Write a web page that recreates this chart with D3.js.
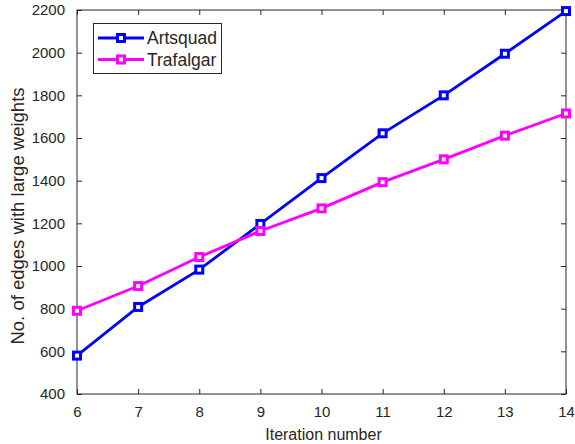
<!DOCTYPE html>
<html>
<head>
  <meta charset="utf-8">
  <title>edges with large weights</title>
  <script src="https://cdn.jsdelivr.net/npm/d3@7/dist/d3.min.js"></script>
  <style>
    body { margin: 0; background: #fff; }
    text { font-family: "Liberation Sans", Arial, sans-serif; fill: #262626; }
  </style>
</head>
<body>
  <svg id="chart" width="575" height="444"></svg>
  <script>
    // values
    var iterations = [6, 7, 8, 9, 10, 11, 12, 13, 14];
    var artsquad = [580, 808, 983, 1197, 1412, 1622, 1800, 1995, 2195];
    var trafalgar = [790, 906, 1042, 1164, 1270, 1393, 1500, 1611, 1715];
    var yTicks = [400, 600, 800, 1000, 1200, 1400, 1600, 1800, 2000, 2200];
    var series = [
      { name: "Artsquad", values: artsquad, color: "#0000ff" },
      { name: "Trafalgar", values: trafalgar, color: "#ff00ff" }
    ];

    var plotL = 77, plotR = 566, plotT = 10, plotB = 394;
    var svg = d3.select("#chart");

    var x = d3.scaleLinear().domain([6, 14]).range([plotL, plotR]);
    var y = d3.scaleLinear().domain([400, 2200]).range([plotB, plotT]);

    // box
    svg.append("rect")
      .attr("x", plotL).attr("y", plotT)
      .attr("width", plotR - plotL).attr("height", plotB - plotT)
      .attr("fill", "none").attr("stroke", "#262626").attr("stroke-width", 1);

    // axes with inward ticks
    var xAxis = svg.append("g").attr("transform", "translate(0," + plotB + ")")
      .call(d3.axisBottom(x).tickValues(iterations).tickSizeInner(-5).tickSizeOuter(0).tickPadding(12).tickFormat(d3.format("d")));
    var xTop = svg.append("g").attr("transform", "translate(0," + plotT + ")")
      .call(d3.axisTop(x).tickValues(iterations).tickSizeInner(-5).tickSizeOuter(0).tickFormat(""));
    var yAxis = svg.append("g").attr("transform", "translate(" + plotL + ",0)")
      .call(d3.axisLeft(y).tickValues(yTicks).tickSizeInner(-5).tickSizeOuter(0).tickPadding(12).tickFormat(d3.format("d")));
    var yRight = svg.append("g").attr("transform", "translate(" + plotR + ",0)")
      .call(d3.axisRight(y).tickValues(yTicks).tickSizeInner(-5).tickSizeOuter(0).tickFormat(""));

    [xAxis, xTop, yAxis, yRight].forEach(function(g) {
      g.select(".domain").remove();
      g.selectAll(".tick line").attr("stroke", "#262626");
      g.selectAll(".tick text").style("font-family", "Liberation Sans, Arial, sans-serif")
        .style("font-size", "15px").attr("fill", "#333");
    });

    // series
    var line = d3.line()
      .x(function(d, i) { return x(iterations[i]); })
      .y(function(d) { return y(d); });

    series.forEach(function(s) {
      svg.append("path")
        .datum(s.values)
        .attr("d", line)
        .attr("fill", "none")
        .attr("stroke", s.color)
        .attr("stroke-width", 2.8);
      svg.selectAll(null)
        .data(s.values)
        .enter().append("rect")
        .attr("x", function(d, i) { return x(iterations[i]) - 3.5; })
        .attr("y", function(d) { return y(d) - 3.5; })
        .attr("width", 7).attr("height", 7)
        .attr("fill", "#fff")
        .attr("stroke", s.color)
        .attr("stroke-width", 3);
    });

    // axis labels
    svg.append("text")
      .attr("x", (plotL + plotR) / 2 + 2).attr("y", 440)
      .attr("text-anchor", "middle")
      .style("font-size", "16px").attr("fill", "#333")
      .text("Iteration number");
    svg.append("text")
      .attr("transform", "translate(24,216) rotate(-90)")
      .attr("text-anchor", "middle")
      .style("font-size", "18.5px").attr("fill", "#333")
      .text("No. of edges with large weights");

    // legend
    var legend = svg.append("g");
    legend.append("rect")
      .attr("x", 93.5).attr("y", 23.5).attr("width", 128).attr("height", 50)
      .attr("fill", "#fff").attr("stroke", "#262626").attr("stroke-width", 1);
    var rows = legend.selectAll("g.row").data(series).enter().append("g")
      .attr("class", "row")
      .attr("transform", function(d, i) { return "translate(0," + (38 + i * 21.5) + ")"; });
    rows.append("line")
      .attr("x1", 98).attr("x2", 144).attr("y1", 0).attr("y2", 0)
      .attr("stroke", function(d) { return d.color; }).attr("stroke-width", 2.8);
    rows.append("rect")
      .attr("x", 117.5).attr("y", -3.5).attr("width", 7).attr("height", 7)
      .attr("fill", "#fff")
      .attr("stroke", function(d) { return d.color; }).attr("stroke-width", 3);
    rows.append("text")
      .attr("x", 147).attr("y", 0).attr("dy", "0.36em")
      .style("font-size", "17.5px").attr("fill", "#000")
      .text(function(d) { return d.name; });
  </script>
</body>
</html>
